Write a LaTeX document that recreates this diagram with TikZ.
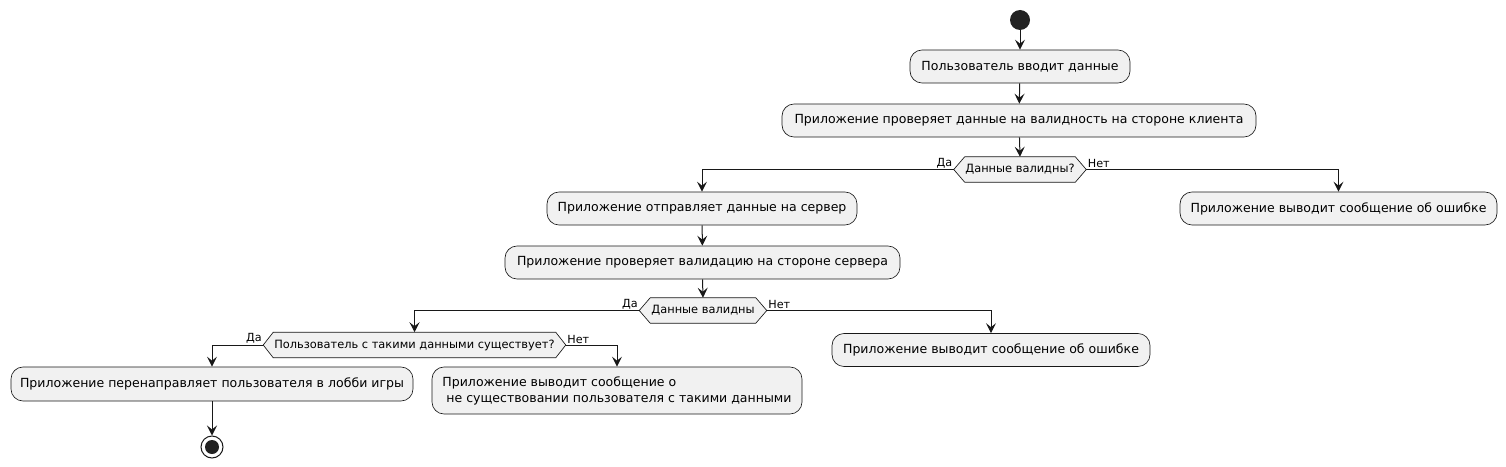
\documentclass[tikz,border=0pt]{standalone}
\usepackage{fontspec}
\setmainfont{DejaVu Sans}
\usetikzlibrary{arrows.meta,calc}
\pgfdeclarelayer{background}
\pgfsetlayers{background,main}
\definecolor{boxfill}{HTML}{F1F1F1}
\definecolor{ink}{HTML}{181818}
\definecolor{dot}{HTML}{222222}
\tikzset{
  act/.style={draw=ink, line width=0.5pt, fill=boxfill, rounded corners=9pt, font=\fontsize{9.4pt}{12pt}\selectfont, text=black, inner sep=0pt, minimum height=24.75pt},
  dtext/.style={draw=none, font=\fontsize{8.55pt}{10pt}\selectfont, inner sep=0pt, minimum height=18.75pt},
  hex/.style={draw=ink, line width=0.5pt, fill=boxfill},
  arr/.style={draw=ink, line width=0.75pt, -{Stealth[length=7.5pt, width=7.5pt, inset=3pt]}},
  lbl/.style={font=\fontsize{8.4pt}{10pt}\selectfont, inner sep=1pt},
}
\begin{document}
\begin{tikzpicture}[x=0.75pt, y=-0.75pt]
\useasboundingbox (0,0) rectangle (1506,467);
% start
\node[circle, fill=dot, minimum size=15pt, inner sep=0pt] (start) at (1020,20) {};
\node[act, minimum width=165pt] (b1) at (1020,66.5) {Пользователь вводит данные};
\node[act, minimum width=355.5pt] (b2) at (1019,120.5) {Приложение проверяет данные на валидность на стороне клиента};
% decision 1
\node[dtext, minimum width=82.5pt] (d1) at (1020,169.5) {Данные валидны?};
\coordinate (d1l) at ($(d1.west)+(-11,0)$);
\coordinate (d1r) at ($(d1.east)+(11,0)$);
\node[act, minimum width=232.5pt] (b3) at (702,208.5) {Приложение отправляет данные на сервер};
\node[act, minimum width=237.75pt] (e1) at (1338.5,208.5) {Приложение выводит сообщение об ошибке};
\node[act, minimum width=296.25pt] (b4) at (702.5,262.5) {Приложение проверяет валидацию на стороне сервера};
% decision 2
\node[dtext, minimum width=78.75pt] (d2) at (703,310.5) {Данные валидны};
\coordinate (d2l) at ($(d2.west)+(-11,0)$);
\coordinate (d2r) at ($(d2.east)+(11,0)$);
\node[act, minimum width=238.5pt] (e2) at (991,350) {Приложение выводит сообщение об ошибке};
% decision 3
\node[dtext, minimum width=211.5pt] (d3) at (414.5,345) {Пользователь с такими данными существует?};
\coordinate (d3l) at ($(d3.west)+(-10,0)$);
\coordinate (d3r) at ($(d3.east)+(10,0)$);
\node[act, minimum width=301.5pt, minimum height=25.5pt] (b5) at (212,384) {Приложение перенаправляет пользователя в лобби игры};
\node[act, minimum width=277.5pt, minimum height=35.25pt, align=left] (b6) at (617,390.5) {Приложение выводит сообщение о\\\mbox{}\ не существовании пользователя с такими данными};
% end
\node[circle, draw=ink, line width=0.75pt, fill=white, minimum size=16.5pt, inner sep=0pt] (end) at (212,447) {};
\fill[dot] (end.center) circle (5.25pt);
% hexagons
\begin{pgfonlayer}{background}
\foreach \d in {d1,d2,d3}{
  \draw[hex] (\d l) -- (\d.north west) -- (\d.north east) -- (\d r) -- (\d.south east) -- (\d.south west) -- cycle;
}
\end{pgfonlayer}
% connectors
\draw[arr] (start) -- (b1);
\draw[arr] (b1) -- (b2);
\draw[arr] (b2) -- (d1.north);
\draw[arr] (d1l) -| (b3.north);
\draw[arr] (d1r) -| (e1.north);
\draw[arr] (b3) -- (b4);
\draw[arr] (b4.south) -- (d2.north);
\draw[arr] (d2l) -| (d3.north);
\draw[arr] (d2r) -| (e2.north);
\draw[arr] (d3l) -| (b5.north);
\draw[arr] (d3r) -| (b6.north);
\draw[arr] (b5) -- (end);
% labels
\node[lbl, anchor=south east] (l1) at (d1l) {Да};
\node[lbl, anchor=south west] (l2) at (d1r) {Нет};
\node[lbl, anchor=south east] (l3) at (d2l) {Да};
\node[lbl, anchor=south west] (l4) at (d2r) {Нет};
\node[lbl, anchor=south east] (l5) at (d3l) {Да};
\node[lbl, anchor=south west] (l6) at (d3r) {Нет};
\end{tikzpicture}
\end{document}
